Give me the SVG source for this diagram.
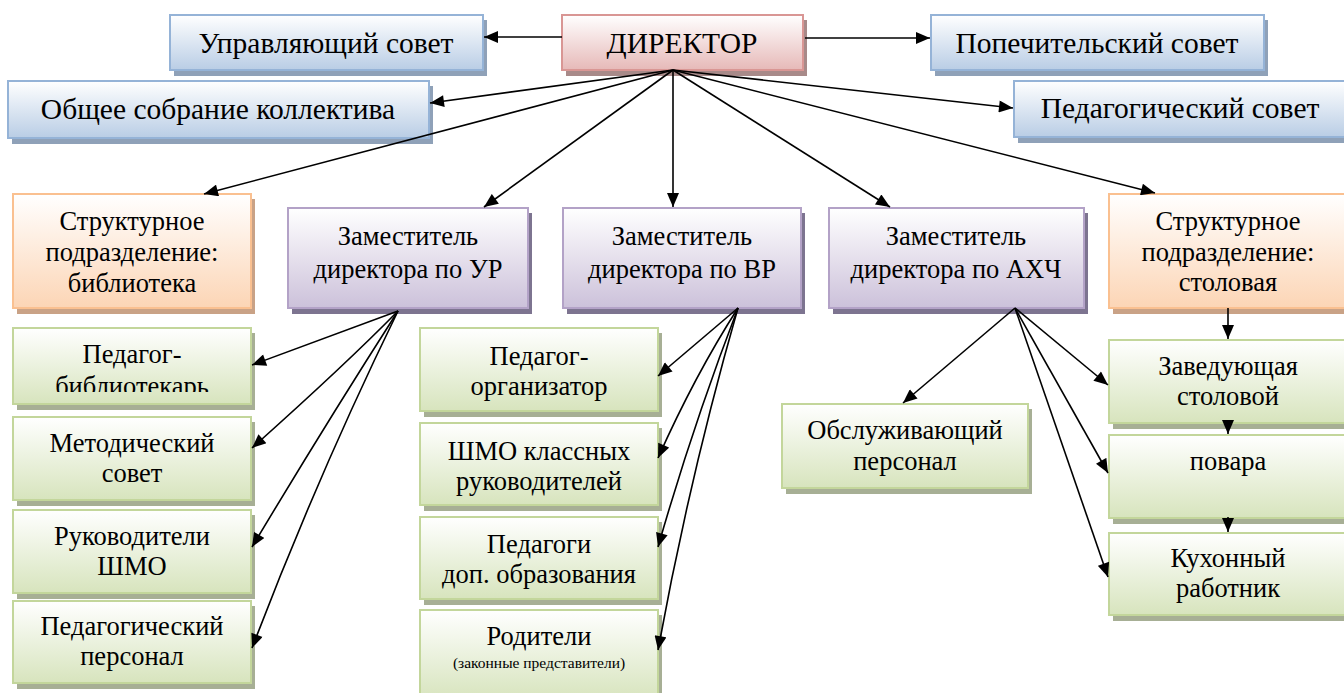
<svg xmlns="http://www.w3.org/2000/svg" width="1344" height="693" viewBox="0 0 1344 693">
<defs>
<linearGradient id="gBlue" x1="0" y1="0" x2="0" y2="1"><stop offset="0" stop-color="#ffffff"/><stop offset="1" stop-color="#b9cde5"/></linearGradient>
<linearGradient id="gRed" x1="0" y1="0" x2="0" y2="1"><stop offset="0" stop-color="#ffffff"/><stop offset="1" stop-color="#e6b9b8"/></linearGradient>
<linearGradient id="gOrange" x1="0" y1="0" x2="0" y2="1"><stop offset="0" stop-color="#ffffff"/><stop offset="1" stop-color="#fcd5b5"/></linearGradient>
<linearGradient id="gPurple" x1="0" y1="0" x2="0" y2="1"><stop offset="0" stop-color="#ffffff"/><stop offset="1" stop-color="#ccc1da"/></linearGradient>
<linearGradient id="gGreen" x1="0" y1="0" x2="0" y2="1"><stop offset="0" stop-color="#ffffff"/><stop offset="1" stop-color="#d7e4bd"/></linearGradient>
<marker id="arr" viewBox="0 0 14 12" refX="14" refY="6" markerWidth="15" markerHeight="12" markerUnits="userSpaceOnUse" orient="auto"><path d="M0,0 L14,6 L0,12 z" fill="#000"/></marker>
<clipPath id="clipLib"><rect x="13" y="328" width="240" height="64"/></clipPath>
</defs>
<style>
text{fill:#000;text-anchor:middle;font-family:"Liberation Serif","Times New Roman","DejaVu Serif",serif}
.t1{font-size:29.5px}
.t2{font-size:26.5px}
.t3{font-size:26.5px}
.small{font-size:15.5px}
.sh{stroke:none}
.blue .sh{fill:#8fa1b8}
.blue .bx{fill:url(#gBlue);stroke:#95b3d7;stroke-width:2}
.red .sh{fill:#a88a89}
.red .bx{fill:url(#gRed);stroke:#d99694;stroke-width:2}
.orange .sh{fill:#c9a286}
.orange .bx{fill:url(#gOrange);stroke:#fac090;stroke-width:2}
.purple .sh{fill:#7d7490}
.purple .bx{fill:url(#gPurple);stroke:#b3a2c7;stroke-width:2}
.green .sh{fill:#a7af95}
.green .bx{fill:url(#gGreen);stroke:#c3d69b;stroke-width:2}
#connectors line,#connectors path{stroke:#000;stroke-width:1.6;fill:none;marker-end:url(#arr)}
</style>
<rect width="1344" height="693" fill="#ffffff"/>
<g id="upr" class="blue"><rect class="sh" x="174" y="20" width="313" height="56"/><rect class="bx" x="170" y="15" width="313" height="55"/><text class="t1" x="326" y="53">Управляющий совет</text></g>
<g id="director" class="red"><rect class="sh" x="566" y="20" width="241" height="56"/><rect class="bx" x="562" y="15" width="241" height="55"/><text class="t1" x="682" y="53">ДИРЕКТОР</text></g>
<g id="popech" class="blue"><rect class="sh" x="935" y="20" width="333" height="56"/><rect class="bx" x="931" y="15" width="333" height="55"/><text class="t1" x="1097" y="53">Попечительский совет</text></g>
<g id="obshee" class="blue"><rect class="sh" x="12" y="86" width="421" height="58"/><rect class="bx" x="8" y="81" width="421" height="57"/><text class="t1" x="218" y="119">Общее собрание коллектива</text></g>
<g id="pedsovet" class="blue"><rect class="sh" x="1018" y="86" width="340" height="57"/><rect class="bx" x="1014" y="81" width="340" height="56"/><text class="t1" x="1180" y="118">Педагогический совет</text></g>

<g id="lib" class="orange"><rect class="sh" x="17" y="199" width="238" height="115"/><rect class="bx" x="13" y="194" width="238" height="114"/><text class="t2" x="132" y="230">Структурное</text><text class="t2" x="132" y="261">подразделение:</text><text class="t2" x="132" y="292">библиотека</text></g>
<g id="zamUR" class="purple"><rect class="sh" x="292" y="213" width="240" height="101"/><rect class="bx" x="288" y="208" width="240" height="100"/><text class="t2" x="408" y="245">Заместитель</text><text class="t2" x="408" y="278">директора по УР</text></g>
<g id="zamVR" class="purple"><rect class="sh" x="567" y="213" width="238" height="101"/><rect class="bx" x="563" y="208" width="238" height="100"/><text class="t2" x="682" y="245">Заместитель</text><text class="t2" x="682" y="278">директора по ВР</text></g>
<g id="zamAHCH" class="purple"><rect class="sh" x="833" y="213" width="255" height="101"/><rect class="bx" x="829" y="208" width="255" height="100"/><text class="t2" x="956" y="245">Заместитель</text><text class="t2" x="956" y="278">директора по АХЧ</text></g>
<g id="stol" class="orange"><rect class="sh" x="1113" y="199" width="238" height="115"/><rect class="bx" x="1109" y="194" width="238" height="114"/><text class="t2" x="1228" y="230">Структурное</text><text class="t2" x="1228" y="261">подразделение:</text><text class="t2" x="1228" y="291">столовая</text></g>

<g id="pedbib" class="green"><rect class="sh" x="17" y="333" width="238" height="77"/><rect class="bx" x="13" y="328" width="238" height="76"/><text class="t3" x="132" y="363">Педагог-</text><text class="t3" x="132" y="395" clip-path="url(#clipLib)">библиотекарь</text></g>
<g id="metod" class="green"><rect class="sh" x="17" y="422" width="238" height="84"/><rect class="bx" x="13" y="417" width="238" height="83"/><text class="t3" x="132" y="452">Методический</text><text class="t3" x="132" y="482">совет</text></g>
<g id="rukshmo" class="green"><rect class="sh" x="17" y="515" width="238" height="84"/><rect class="bx" x="13" y="510" width="238" height="83"/><text class="t3" x="132" y="545">Руководители</text><text class="t3" x="132" y="575">ШМО</text></g>
<g id="pedpers" class="green"><rect class="sh" x="17" y="606" width="238" height="83"/><rect class="bx" x="13" y="601" width="238" height="82"/><text class="t3" x="132" y="635">Педагогический</text><text class="t3" x="132" y="665">персонал</text></g>

<g id="pedorg" class="green"><rect class="sh" x="424" y="333" width="238" height="84"/><rect class="bx" x="420" y="328" width="238" height="83"/><text class="t3" x="539" y="365">Педагог-</text><text class="t3" x="539" y="395">организатор</text></g>
<g id="shmokl" class="green"><rect class="sh" x="424" y="428" width="238" height="83"/><rect class="bx" x="420" y="423" width="238" height="82"/><text class="t3" x="539" y="460">ШМО классных</text><text class="t3" x="539" y="490">руководителей</text></g>
<g id="peddop" class="green"><rect class="sh" x="424" y="522" width="238" height="83"/><rect class="bx" x="420" y="517" width="238" height="82"/><text class="t3" x="539" y="553">Педагоги</text><text class="t3" x="539" y="583">доп. образования</text></g>
<g id="roditeli" class="green"><rect class="sh" x="424" y="615" width="238" height="90"/><rect class="bx" x="420" y="610" width="238" height="90"/><text class="t3" x="539" y="645">Родители</text><text class="small" x="539" y="668">(законные представители)</text></g>

<g id="obsl" class="green"><rect class="sh" x="786" y="409" width="246" height="85"/><rect class="bx" x="782" y="404" width="246" height="84"/><text class="t3" x="905" y="439">Обслуживающий</text><text class="t3" x="905" y="470">персонал</text></g>

<g id="zavstol" class="green"><rect class="sh" x="1113" y="345" width="238" height="84"/><rect class="bx" x="1109" y="340" width="238" height="83"/><text class="t3" x="1228" y="375">Заведующая</text><text class="t3" x="1228" y="405">столовой</text></g>
<g id="povara" class="green"><rect class="sh" x="1113" y="440" width="238" height="84"/><rect class="bx" x="1109" y="435" width="238" height="83"/><text class="t3" x="1228" y="470">повара</text></g>
<g id="kuhn" class="green"><rect class="sh" x="1113" y="538" width="238" height="83"/><rect class="bx" x="1109" y="533" width="238" height="82"/><text class="t3" x="1228" y="567">Кухонный</text><text class="t3" x="1228" y="597">работник</text></g>

<g id="connectors">
<line x1="562" y1="37" x2="484" y2="37"/>
<line x1="805" y1="38" x2="930" y2="38"/>
<line x1="673" y1="70" x2="430" y2="103"/>
<line x1="673" y1="70" x2="1013" y2="108"/>
<line x1="673" y1="70" x2="204" y2="194"/>
<line x1="673" y1="70" x2="484" y2="207"/>
<line x1="673" y1="70" x2="673" y2="207"/>
<line x1="673" y1="70" x2="890" y2="207"/>
<line x1="673" y1="70" x2="1155" y2="193"/>
<path d="M398,311 L252,365"/>
<path d="M398,311 Q345,365 252,448"/>
<path d="M398,311 Q325,425 252,547"/>
<path d="M398,311 Q318,475 252,648"/>
<path d="M738,308 L658,376"/>
<path d="M738,308 Q695,375 658,458"/>
<path d="M738,308 Q693,425 658,547"/>
<path d="M738,308 Q690,475 658,650"/>
<line x1="1015" y1="308" x2="903" y2="403"/>
<line x1="1015" y1="308" x2="1108" y2="385"/>
<line x1="1015" y1="308" x2="1108" y2="473"/>
<line x1="1015" y1="308" x2="1108" y2="577"/>
<line x1="1228" y1="308" x2="1228" y2="339"/>
<line x1="1228" y1="420" x2="1228" y2="434"/>
<line x1="1228" y1="517" x2="1228" y2="532"/>
</g>
</svg>
